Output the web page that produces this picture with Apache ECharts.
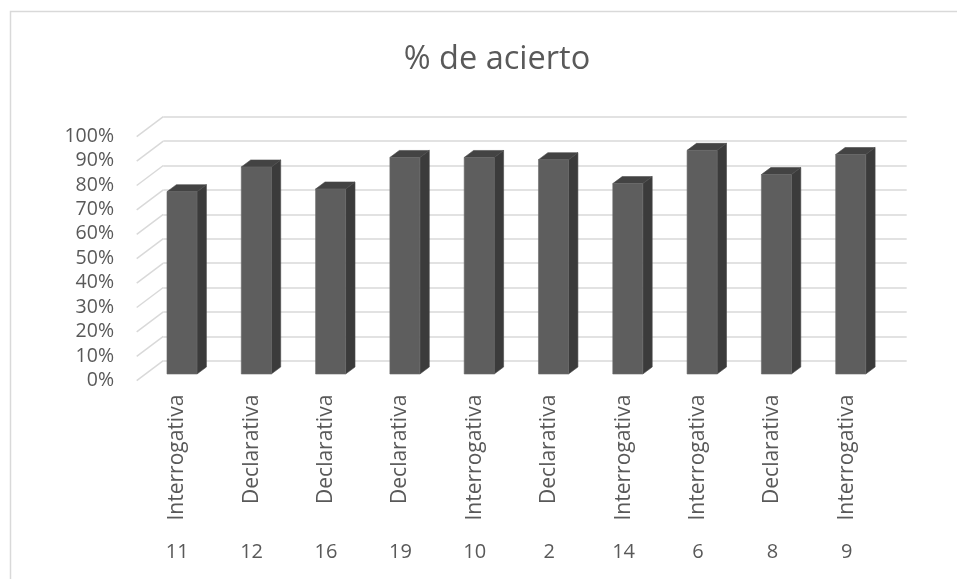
<!DOCTYPE html>
<html>
<head>
<meta charset="utf-8">
<script src="https://cdn.jsdelivr.net/npm/echarts@6/dist/echarts.min.js"></script>
<style>html,body{margin:0;padding:0;background:#fff;}#c{width:957px;height:579px;}</style>
</head>
<body>
<div id="c"></div>
<script>
const categories = ['11','12','16','19','10','2','14','6','8','9'];
const types = ['Interrogativa','Declarativa','Declarativa','Declarativa','Interrogativa','Declarativa','Interrogativa','Interrogativa','Declarativa','Interrogativa'];
const values = [74.6, 84.7, 75.7, 88.6, 88.6, 87.7, 77.9, 91.5, 81.6, 89.8];
const yTicks = [0,10,20,30,40,50,60,70,80,90,100];

const TXT = '#595959';
const FONT = 'Open Sans';
const DX = 9.4, DY = 7;

const chart = echarts.init(document.getElementById('c'));
chart.setOption({
  backgroundColor: '#fff',
  animation: false,
  title: {
    text: '% de acierto',
    left: 492, top: 38, textAlign: 'center',
    textStyle: {fontFamily: FONT, fontSize: 32.5, fontWeight: 'normal', color: TXT}
  },
  graphic: [{
    type: 'rect', shape: {x: 10.5, y: 11.5, width: 1000, height: 700},
    style: {fill: null, stroke: '#d9d9d9', lineWidth: 1.5}, silent: true
  }],
  grid: [
    // bars (middle depth)
    {left: 144.85, right: 69.15, top: 129.6, bottom: 205},
    // back wall
    {left: 163.3, right: 50.3, top: 116.7, bottom: 218.3},
    // front plane (labels)
    {left: 140, right: 73, top: 136, bottom: 198.3}
  ],
  xAxis: [
    {gridIndex: 0, type: 'category', data: categories, show: false},
    {gridIndex: 1, type: 'value', min: 0, max: 1, show: false},
    {gridIndex: 2, type: 'category', data: types, position: 'bottom',
      axisLine: {show: false}, axisTick: {show: false}, splitLine: {show: false},
      axisLabel: {rotate: 90, margin: 14, interval: 0, color: TXT, fontFamily: FONT, fontSize: 21}},
    {gridIndex: 2, type: 'category', data: categories, position: 'bottom', offset: 155,
      axisLine: {show: false}, axisTick: {show: false}, splitLine: {show: false},
      axisLabel: {margin: 7, interval: 0, color: TXT, fontFamily: FONT, fontSize: 20}}
  ],
  yAxis: [
    {gridIndex: 0, type: 'value', min: 0, max: 100, interval: 10, show: false},
    {gridIndex: 1, type: 'value', min: 0, max: 100, interval: 10,
      axisLine: {show: false}, axisTick: {show: false}, axisLabel: {show: false},
      splitLine: {show: true, lineStyle: {color: '#d9d9d9', width: 1.5}}},
    {gridIndex: 2, type: 'value', min: 0, max: 100, interval: 10,
      axisLine: {show: false}, axisTick: {show: false}, splitLine: {show: false},
      axisLabel: {margin: 26, color: TXT, fontFamily: FONT, fontSize: 19.5, formatter: '{value}%'}}
  ],
  series: [
    {
      type: 'custom', xAxisIndex: 1, yAxisIndex: 1, silent: true, z: 1,
      data: yTicks.map(t => [0, t]),
      renderItem: function (params, api) {
        const p = api.coord([0, api.value(1)]);
        return {type: 'line', shape: {x1: p[0], y1: p[1], x2: p[0] - 26.6, y2: p[1] + 20},
          style: {stroke: '#d9d9d9', lineWidth: 1.5}};
      }
    },
    {
      type: 'custom', xAxisIndex: 0, yAxisIndex: 0, silent: true, z: 5,
      data: values.map((v, i) => [i, v]),
      renderItem: function (params, api) {
        const top = api.coord([api.value(0), api.value(1)]);
        const base = api.coord([api.value(0), 0]);
        const band = api.size([1, 0])[0];
        const w = band * 0.404;
        const x0 = top[0] - w / 2, x1 = top[0] + w / 2;
        const ty = top[1], by = base[1];
        return {type: 'group', children: [
          {type: 'polygon', shape: {points: [[x1, ty], [x1 + DX, ty - DY], [x1 + DX, by - DY], [x1, by]]},
            style: {fill: '#3b3b3b', stroke: '#4a4a4a', lineWidth: 0.6}},
          {type: 'polygon', shape: {points: [[x0, ty], [x0 + DX, ty - DY], [x1 + DX, ty - DY], [x1, ty]]},
            style: {fill: '#434343', stroke: '#4a4a4a', lineWidth: 0.6}},
          {type: 'rect', shape: {x: x0, y: ty, width: w, height: by - ty},
            style: {fill: '#5e5e5e', stroke: '#6a6a6a', lineWidth: 0.6}}
        ]};
      }
    }
  ]
});
</script>
</body>
</html>
